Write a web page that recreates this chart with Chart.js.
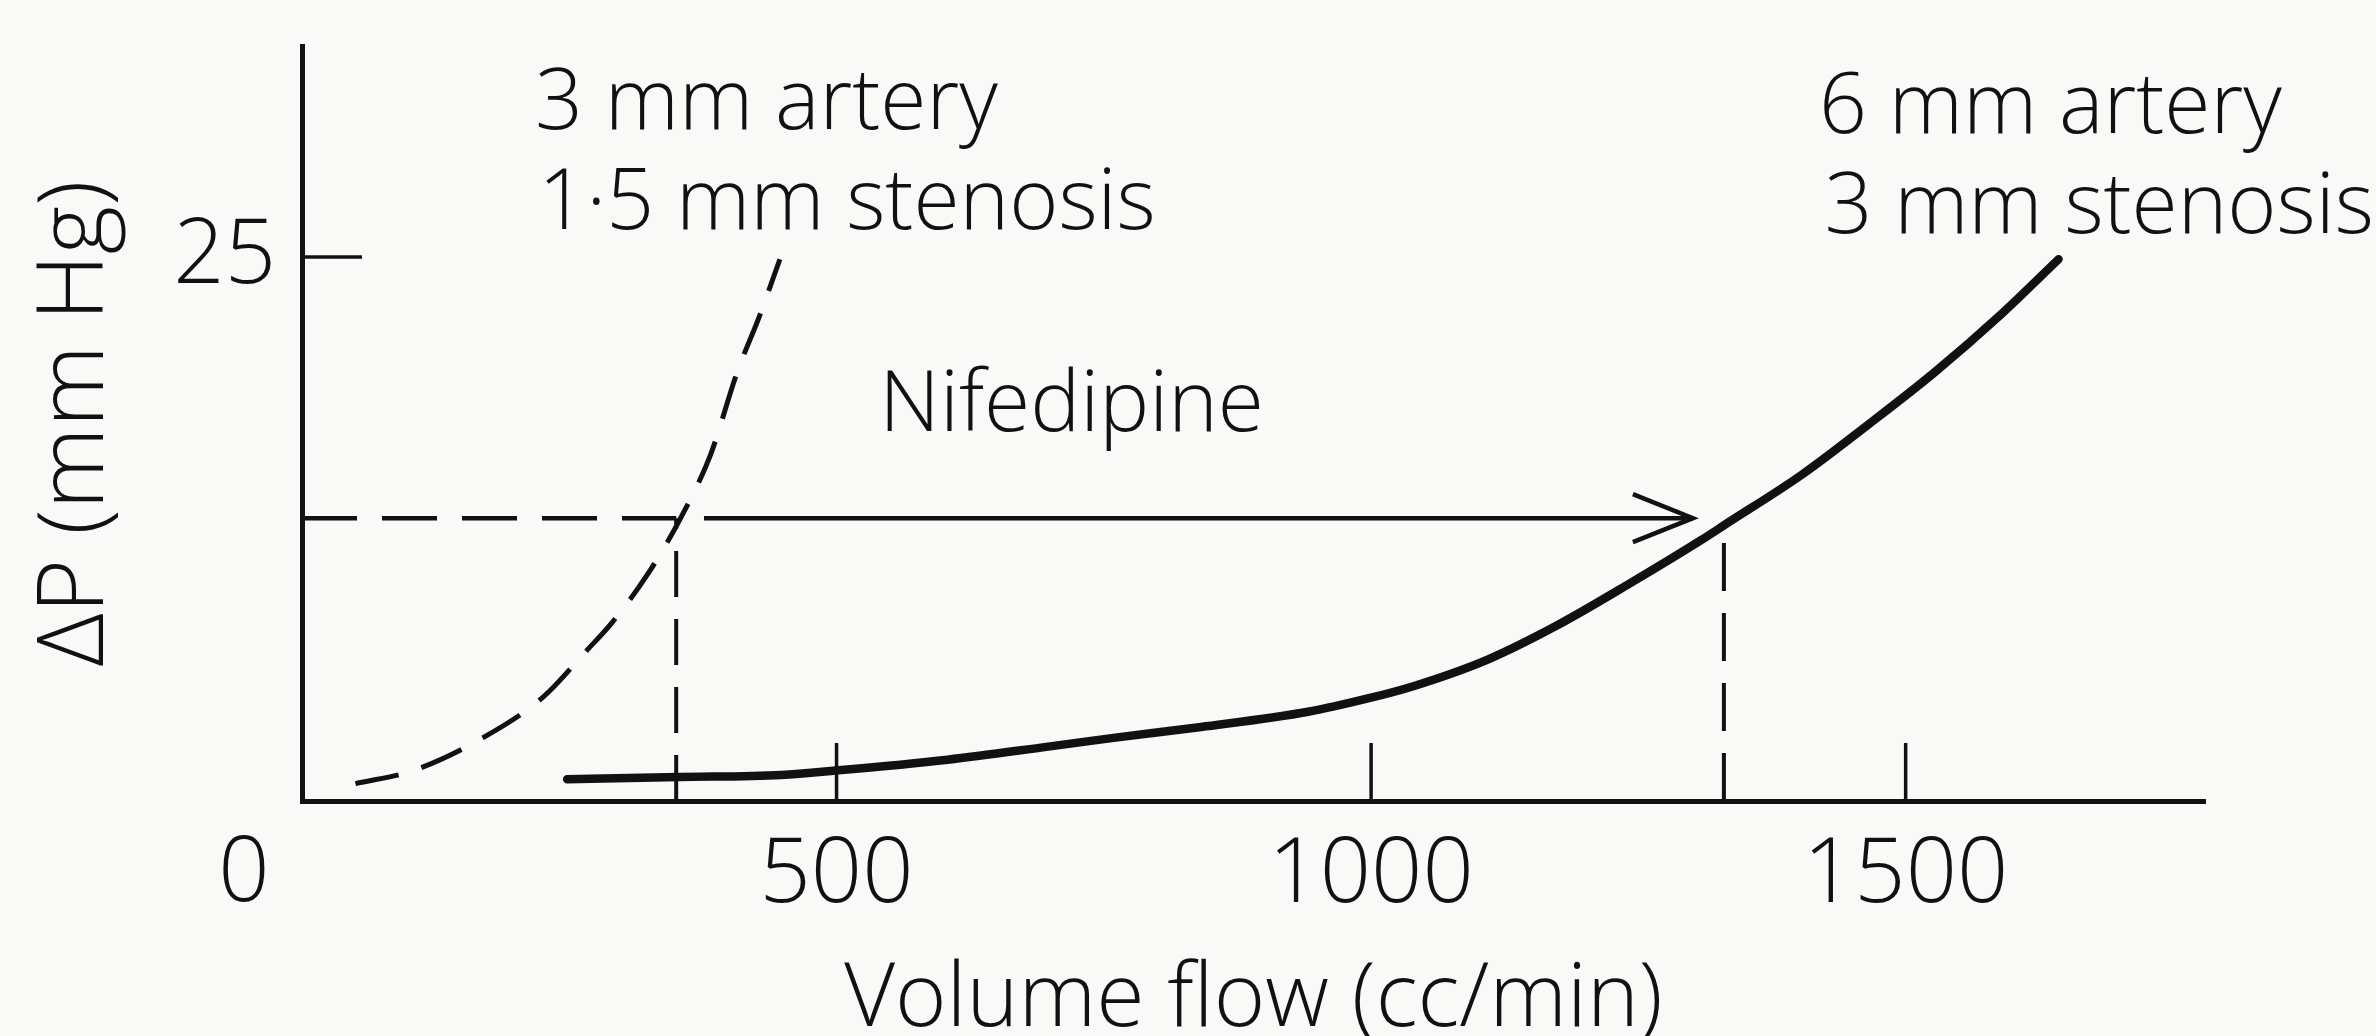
<!DOCTYPE html>
<html>
<head>
<meta charset="utf-8">
<script src="https://cdn.jsdelivr.net/npm/chart.js@4.4.1/dist/chart.umd.min.js"></script>
<style>
  html, body { margin: 0; padding: 0; background: #f9f9f8; }
  #wrap { width: 2376px; height: 1036px; }
</style>
</head>
<body>
<div id="wrap"><canvas id="chart" width="2376" height="1036"></canvas></div>
<script>
// values (flow in cc/min, pressure drop in mm Hg)
const flow3mm = [50, 104, 169, 226, 266, 290, 323, 353, 382, 407, 428, 447];
const dp3mm   = [0.8, 1.4, 2.9, 4.8, 6.9, 8.2, 10.4, 12.9, 15.9, 19.7, 22.3, 24.9];

const flow6mm = [248, 353, 448, 499, 604, 698, 759, 841, 941, 996, 1041, 1109, 1175, 1242, 1309, 1331, 1403, 1465, 1527, 1590, 1643];
const dp6mm   = [1.0, 1.1, 1.2, 1.4, 1.9, 2.5, 2.9, 3.4, 4.1, 4.7, 5.3, 6.5, 8.1, 10.0, 12.0, 12.7, 15.0, 17.3, 19.7, 22.4, 24.9];

// nifedipine shift: same pressure drop, flow goes from ~350 to ~1330
const shiftFlow = [350, 1330];
const shiftDP = [13, 12.7];
const arrowFlow = [376, 1301];
const arrowDP = 13;

const xTicks = [500, 1000, 1500];
const yTicks = [25];
const xMax = 1780, yMax = 34.7;

const ink = '#111';
const fam = '"Open Sans", "Liberation Sans", sans-serif';

function pts(xs, ys){
    return xs.map((x, i) => ({x: x, y: ys[i]}));
}

const extras = {
    id: 'extras',
    beforeDraw(chart){
        const ctx = chart.ctx;
        ctx.save();
        ctx.fillStyle = '#f9f9f8';
        ctx.fillRect(0, 0, chart.width, chart.height);
        ctx.restore();
    },
    afterDraw(chart){
        const ctx = chart.ctx;
        const x = chart.scales.x, y = chart.scales.y;
        ctx.save();
        ctx.strokeStyle = ink;
        ctx.fillStyle = ink;
        ctx.lineCap = 'butt';

        // tick marks point inward
        ctx.lineWidth = 3.5;
        xTicks.forEach(v => {
            const px = x.getPixelForValue(v);
            ctx.beginPath();
            ctx.moveTo(px, y.getPixelForValue(0));
            ctx.lineTo(px, y.getPixelForValue(0) - 58);
            ctx.stroke();
        });
        yTicks.forEach(v => {
            const py = y.getPixelForValue(v);
            ctx.beginPath();
            ctx.moveTo(x.getPixelForValue(0), py);
            ctx.lineTo(x.getPixelForValue(0) + 60, py);
            ctx.stroke();
        });

        // open arrow head
        const tx = x.getPixelForValue(arrowFlow[1]), ty = y.getPixelForValue(arrowDP);
        ctx.lineWidth = 4.5;
        ctx.lineJoin = 'miter';
        ctx.beginPath();
        ctx.moveTo(tx - 60, ty - 24);
        ctx.lineTo(tx, ty);
        ctx.lineTo(tx - 60, ty + 24);
        ctx.stroke();

        // origin label sits off the corner
        ctx.font = '300 90px ' + fam;
        ctx.textAlign = 'center';
        ctx.textBaseline = 'middle';
        ctx.fillText('0', x.getPixelForValue(0) - 58, y.getPixelForValue(0) + 74);

        // curve labels
        ctx.font = '300 84px ' + fam;
        ctx.textAlign = 'left';
        ctx.textBaseline = 'alphabetic';
        ctx.fillText('3 mm artery', x.getPixelForValue(218), y.getPixelForValue(30.9));
        ctx.fillText('1·5 mm stenosis', x.getPixelForValue(221), y.getPixelForValue(26.3));
        ctx.fillText('6 mm artery', x.getPixelForValue(1419), y.getPixelForValue(30.7));
        ctx.fillText('3 mm stenosis', x.getPixelForValue(1424), y.getPixelForValue(26.1));
        ctx.fillText('Nifedipine', x.getPixelForValue(540), y.getPixelForValue(17.0));
        ctx.restore();
    }
};

new Chart(document.getElementById('chart'), {
    type: 'scatter',
    data: {
        datasets: [
            {
                label: '3 mm artery, 1.5 mm stenosis',
                data: pts(flow3mm, dp3mm),
                showLine: true,
                borderColor: ink,
                borderWidth: 5,
                borderDash: [44, 24],
                cubicInterpolationMode: 'monotone',
                pointRadius: 0
            },
            {
                label: '6 mm artery, 3 mm stenosis',
                data: pts(flow6mm, dp6mm),
                showLine: true,
                borderColor: ink,
                borderWidth: 8.5,
                borderCapStyle: 'round',
                cubicInterpolationMode: 'monotone',
                pointRadius: 0
            },
            {
                label: 'guide h',
                data: [{x: 0, y: shiftDP[0]}, {x: shiftFlow[0], y: shiftDP[0]}],
                showLine: true,
                borderColor: ink,
                borderWidth: 4.5,
                borderDash: [55, 25],
                pointRadius: 0
            },
            {
                label: 'guide v1',
                data: [{x: shiftFlow[0], y: 0}, {x: shiftFlow[0], y: shiftDP[0]}],
                showLine: true,
                borderColor: ink,
                borderWidth: 4,
                borderDash: [46, 22],
                pointRadius: 0
            },
            {
                label: 'guide v2',
                data: [{x: shiftFlow[1], y: 0}, {x: shiftFlow[1], y: shiftDP[1]}],
                showLine: true,
                borderColor: ink,
                borderWidth: 4,
                borderDash: [48, 22],
                pointRadius: 0
            },
            {
                label: 'arrow',
                data: [{x: arrowFlow[0], y: arrowDP}, {x: arrowFlow[1], y: arrowDP}],
                showLine: true,
                borderColor: ink,
                borderWidth: 4.5,
                pointRadius: 0
            }
        ]
    },
    options: {
        responsive: false,
        animation: false,
        devicePixelRatio: 1,
        layout: { padding: { top: 46, right: 171, bottom: 0, left: 0 } },
        plugins: {
            legend: { display: false },
            tooltip: { enabled: false }
        },
        scales: {
            x: {
                type: 'linear',
                min: 0,
                max: xMax,
                grid: { display: false, drawTicks: false },
                border: { display: true, color: ink, width: 5 },
                afterBuildTicks: s => { s.ticks = xTicks.map(v => ({value: v})); },
                afterFit: s => { s.height = 235; },
                ticks: {
                    color: ink,
                    padding: 30,
                    maxRotation: 0,
                    autoSkip: false,
                    callback: v => String(v),
                    font: { family: fam, size: 90, weight: 300, lineHeight: 1 }
                },
                title: {
                    display: true,
                    text: 'Volume flow (cc/min)',
                    color: ink,
                    padding: 0,
                    font: { family: fam, size: 88, weight: 300, lineHeight: 0.8 }
                }
            },
            y: {
                type: 'linear',
                min: 0,
                max: yMax,
                grid: { display: false, drawTicks: false },
                border: { display: true, color: ink, width: 5 },
                afterBuildTicks: s => { s.ticks = yTicks.map(v => ({value: v})); },
                afterFit: s => {
                    s.width = 302;
                    s.paddingTop = 0;
                    s.paddingBottom = 0;
                },
                ticks: {
                    color: ink,
                    padding: 26,
                    font: { family: fam, size: 90, weight: 300, lineHeight: 1 }
                },
                title: {
                    display: true,
                    text: 'ΔP (mm Hg)',
                    color: ink,
                    padding: { top: 30, bottom: 0 },
                    font: { family: fam, size: 93, weight: 300, lineHeight: 1 }
                }
            }
        }
    },
    plugins: [extras]
});
</script>
</body>
</html>
